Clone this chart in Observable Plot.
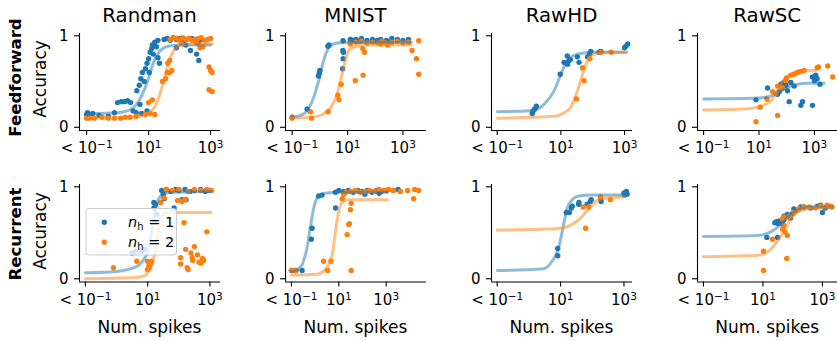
<!DOCTYPE html>
<html><head><meta charset="utf-8">
<script src="https://cdn.jsdelivr.net/npm/d3@7"></script>
<script src="https://cdn.jsdelivr.net/npm/@observablehq/plot@0.6"></script>
<style>
html,body{margin:0;padding:0;background:#fff;overflow:hidden}
#fig{position:relative;width:837px;height:341px;overflow:hidden;background:#fff;font-family:"DejaVu Sans",sans-serif}
#fig svg.panel{position:absolute}
#overlay{position:absolute;left:0;top:0;pointer-events:none}
</style></head><body><div id="fig"></div>
<script>
// ---------- labels ----------
const datasets = ["Randman", "MNIST", "RawHD", "RawSC"];
const architectures = ["Feedforward", "Recurrent"];
const xTickValues = [0.1, 10, 1000];
const xTickBase = ["< 10", "10", "10"];
const xTickExp = ["−1", "1", "3"];
const yTickValues = [0, 1];
const yTickLabels = ["0", "1"];
const nhValues = ["1", "2"];
const xLabel = "Num. spikes";
const yLabel = "Accuracy";

// ---------- data: [log10(num. spikes), accuracy]; log10 = -1 means "< 10^-1" ----------
// Feedforward
const randmanFF_nh1 = [[-1,0.14],[-0.97,0.16],[-0.93,0.13],[-0.8,0.15],[-0.6,0.13],[-0.3,0.12],[-0.1,0.16],
 [0.0,0.27],[0.12,0.28],[0.22,0.28],[0.32,0.29],[0.42,0.27],[0.5,0.18],[0.6,0.16],[0.72,0.25],[0.78,0.15],[0.95,0.18],
 [0.62,0.4],[0.7,0.46],[0.75,0.53],[0.8,0.6],[0.86,0.5],[0.9,0.64],[0.95,0.7],[1.0,0.75],[1.02,0.6],[1.05,0.82],[1.1,0.86],
 [1.15,0.8],[1.12,0.9],[1.2,0.93],[1.25,0.88],[1.3,0.76],[1.35,0.7],[1.3,0.95],
 [1.5,0.96],[1.6,0.97],[1.7,0.95],[1.8,0.98],[1.9,0.96],[2.0,0.97],[2.1,0.93],[2.2,0.96],[2.4,0.97],[2.5,0.95],[2.6,0.92],[2.7,0.96],
 [1.9,0.87],[2.35,0.84],[2.2,0.9],[2.55,0.8],[2.62,0.73]];
const randmanFF_nh2 = [[-1,0.1],[-0.9,0.1],[-0.75,0.1],[-0.5,0.11],[-0.3,0.1],[-0.1,0.1],[0.1,0.1],[0.25,0.11],[0.4,0.11],[0.6,0.12],
 [0.9,0.14],[1.05,0.15],[1.2,0.14],[1.0,0.27],[1.12,0.3],
 [1.45,0.5],[1.55,0.53],[1.6,0.6],[1.68,0.6],[1.75,0.62],[1.62,0.7],[1.68,0.73],
 [1.7,0.96],[1.8,0.98],[1.9,0.97],[2.0,0.95],[2.05,0.92],[2.1,0.98],[2.2,0.96],[2.3,0.97],[2.4,0.95],[2.5,0.96],[2.55,0.92],
 [2.6,0.97],[2.7,0.98],[2.75,0.88],[2.8,0.95],[2.9,0.96],[3.0,0.97],[2.66,0.87],
 [2.95,0.66],[3.0,0.62],[3.05,0.6],[2.95,0.41],[3.05,0.39]];
const randmanFF_fit1 = [[-1,0.15],[0,0.16],[0.4,0.19],[0.65,0.27],[0.85,0.4],[1.01,0.55],[1.17,0.72],[1.39,0.84],[1.71,0.89],[2.2,0.9],[3.0,0.9]];
const randmanFF_fit2 = [[-1,0.1],[0.5,0.11],[0.96,0.15],[1.15,0.2],[1.28,0.28],[1.49,0.51],[1.65,0.71],[1.82,0.84],[2.05,0.9],[2.5,0.91],[3.05,0.91]];

const mnistFF_nh1 = [[-1,0.11],[-0.46,0.2],[-0.05,0.56],[-0.02,0.59],[0.0,0.62],[0.29,0.885],[0.33,0.9],
 [0.83,0.84],[0.85,0.82],[0.84,0.75],[0.82,0.64],[0.84,0.945],
 [1.1,0.96],[1.2,0.95],[1.3,0.96],[1.4,0.94],[1.5,0.97],[1.7,0.95],[1.9,0.96],[2.0,0.94],[2.1,0.95],[2.2,0.96],[2.4,0.95],
 [2.5,0.93],[2.6,0.97],[2.8,0.96],[3.0,0.95],[3.2,0.96]];
const mnistFF_nh2 = [[-1,0.1],[-0.34,0.17],[-0.3,0.1],[0.3,0.17],[0.65,0.35],[0.69,0.3],[0.77,0.47],[1.28,0.51],[1.56,0.57],
 [1.61,0.82],[1.55,0.86],[1.1,0.91],
 [1.3,0.93],[1.5,0.94],[1.7,0.92],[1.9,0.93],[2.1,0.92],[2.2,0.91],[2.25,0.94],[2.3,0.93],[2.4,0.92],[2.45,0.9],[2.6,0.93],
 [2.8,0.94],[3.0,0.92],[3.2,0.93],[3.33,0.84],[3.49,0.75],[3.57,0.945],[3.57,0.58]];
const mnistFF_fit1 = [[-1,0.11],[-0.7,0.13],[-0.46,0.18],[-0.22,0.33],[-0.04,0.51],[0.14,0.73],[0.32,0.87],[0.62,0.92],[1.2,0.93],[3.3,0.93]];
const mnistFF_fit2 = [[-1,0.1],[-0.3,0.11],[0.1,0.14],[0.38,0.21],[0.62,0.36],[0.8,0.58],[0.98,0.8],[1.17,0.87],[1.6,0.9],[3.3,0.9]];

const rawhdFF_nh1 = [[0.1,0.15],[0.13,0.18],[0.18,0.2],[0.23,0.23],[0.98,0.58],[1.1,0.71],[1.21,0.69],[1.26,0.73],[1.3,0.74],
 [1.2,0.78],[1.52,0.77],[1.57,0.71],[1.84,0.77],[1.9,0.8],[1.94,0.83],[2.26,0.83],[2.2,0.82],[3.05,0.89],[3.1,0.91],[3.0,0.87]];
const rawhdFF_nh2 = [[1.49,0.31],[1.73,0.51],[1.68,0.65],[1.91,0.75],[2.26,0.82],[2.58,0.82]];
const rawhdFF_fit1 = [[-1,0.17],[0.05,0.18],[0.47,0.25],[0.79,0.4],[1.0,0.58],[1.2,0.73],[1.52,0.8],[2.0,0.82],[3.05,0.82]];
const rawhdFF_fit2 = [[-1,0.1],[0.8,0.12],[1.1,0.16],[1.31,0.22],[1.52,0.4],[1.68,0.58],[1.84,0.73],[2.05,0.8],[2.5,0.82],[3.05,0.82]];

const rawscFF_nh1 = [[0.89,0.3],[1.31,0.43],[1.67,0.36],[1.73,0.39],[1.79,0.47],[1.85,0.43],[1.9,0.49],[1.97,0.46],[2.03,0.4],
 [2.09,0.28],[2.15,0.49],[2.27,0.45],[2.51,0.24],[2.57,0.28],[2.93,0.24],[2.93,0.55],[3.0,0.51],[3.1,0.53],[3.2,0.47],[3.05,0.57]];
const rawscFF_nh2 = [[0.89,0.06],[1.04,0.22],[1.28,0.31],[1.49,0.39],[1.6,0.37],[1.67,0.45],[1.67,0.13],[1.85,0.43],[1.97,0.51],
 [2.0,0.54],[2.15,0.57],[2.27,0.58],[2.39,0.6],[2.51,0.61],[2.63,0.62],[3.1,0.65],[3.15,0.66],[3.48,0.67],[3.66,0.55]];
const rawscFF_fit1 = [[-1,0.31],[1.0,0.32],[1.4,0.34],[1.67,0.37],[2.03,0.44],[2.39,0.47],[2.8,0.48],[3.35,0.48]];
const rawscFF_fit2 = [[-1,0.19],[0.5,0.2],[0.95,0.22],[1.43,0.29],[1.67,0.4],[1.91,0.53],[2.15,0.58],[2.51,0.62],[3.05,0.62]];

// Recurrent
const randmanRec_nh1 = [[0.5,0.28],[0.6,0.3],[0.79,0.3],[0.9,0.32],[1.2,0.77],[1.2,0.83],[1.25,0.81],[1.3,0.7],
 [1.45,0.96],[1.5,0.92],[1.53,0.87],[1.6,0.97],[1.75,0.95],[1.85,0.77],[1.9,0.97],[2.0,0.96],[2.2,0.97],[2.23,0.86],[2.1,0.86],
 [2.35,0.95],[2.5,0.96],[2.7,0.97],[2.85,0.95],[3.0,0.96]];
const randmanRec_nh2 = [[-0.1,0.12],[0.65,0.19],[0.99,0.19],[1.04,0.14],[0.99,0.1],[1.1,0.17],[1.12,0.19],[1.05,0.12],[1.42,0.83],[1.53,0.88],
 [1.6,0.97],[1.8,0.96],[2.0,0.97],[2.3,0.95],[2.5,0.97],[2.7,0.96],[2.9,0.97],[3.05,0.96],[1.96,0.85],[2.1,0.84],[2.2,0.86],
 [2.17,0.61],[2.06,0.23],[2.22,0.32],[2.06,0.16],[2.27,0.12],[2.3,0.1],[2.39,0.28],[2.43,0.23],[2.5,0.35],[2.6,0.26],
 [2.71,0.17],[2.76,0.22],[2.8,0.2],[2.9,0.51],[2.45,0.2],[2.65,0.18]];
const randmanRec_fit1 = [[-1,0.065],[0,0.08],[0.56,0.12],[0.83,0.19],[1.04,0.34],[1.15,0.56],[1.26,0.77],[1.42,0.9],[1.7,0.94],[3.03,0.95]];
const randmanRec_fit2 = [[-1,0.0],[0.5,0.01],[0.88,0.03],[1.1,0.12],[1.26,0.34],[1.36,0.56],[1.47,0.69],[1.65,0.72],[3.03,0.72]];

const mnistRec_nh1 = [[-1,0.09],[-0.83,0.09],[-0.55,0.09],[-0.16,0.43],[-0.13,0.55],[0.15,0.9],[0.29,0.91],[0.86,0.77],[0.86,0.94],
 [1.0,0.96],[1.2,0.95],[1.4,0.96],[1.6,0.94],[1.8,0.96],[2.0,0.95],[2.1,0.92],[2.2,0.96],[2.4,0.94],[2.6,0.96],[2.7,0.93],
 [2.8,0.95],[3.0,0.96],[3.3,0.96],[3.5,0.97],[3.6,0.95]];
const mnistRec_nh2 = [[-1,0.09],[-0.8,0.09],[0.36,0.19],[0.53,0.09],[0.67,0.19],[1.14,0.87],[1.21,0.92],[1.35,0.48],[1.42,0.59],
 [1.45,0.6],[1.49,0.75],[1.52,0.82],[1.52,0.09],
 [1.3,0.94],[1.5,0.95],[1.7,0.96],[1.9,0.94],[2.1,0.95],[2.3,0.96],[2.5,0.95],[2.7,0.97],[2.9,0.96],[3.1,0.97],[3.3,0.96],
 [3.6,0.95],[3.9,0.96],[4.16,0.87],[4.2,0.97],[4.37,0.96]];
const mnistRec_fit1 = [[-1,0.08],[-0.75,0.1],[-0.55,0.155],[-0.34,0.34],[-0.2,0.56],[-0.06,0.77],[0.15,0.9],[0.43,0.93],[1.0,0.94],[3.05,0.94]];
const mnistRec_fit2 = [[-1,0.04],[0.08,0.05],[0.43,0.1],[0.72,0.26],[0.86,0.52],[1.0,0.74],[1.14,0.83],[1.4,0.86],[3.05,0.86]];

const rawhdRec_nh1 = [[0.91,0.33],[0.91,0.25],[1.18,0.72],[1.28,0.72],[1.34,0.77],[1.37,0.79],[1.57,0.81],[1.58,0.83],[1.84,0.81],
 [1.94,0.84],[1.97,0.86],[2.26,0.87],[2.28,0.84],[3.0,0.93],[3.05,0.94],[3.1,0.92],[3.08,0.95],[3.02,0.91]];
const rawhdRec_nh2 = [[1.71,0.78],[1.89,0.78],[1.79,0.55],[2.26,0.89],[2.57,0.86]];
const rawhdRec_fit1 = [[-1,0.09],[0.47,0.11],[0.73,0.19],[0.94,0.34],[1.08,0.56],[1.21,0.77],[1.37,0.86],[1.57,0.9],[2.0,0.91],[3.0,0.91]];
const rawhdRec_fit2 = [[-1,0.53],[0.58,0.54],[1.0,0.55],[1.31,0.58],[1.63,0.66],[1.89,0.76],[2.15,0.85],[2.47,0.88],[3.0,0.89]];

const rawscRec_nh1 = [[1.13,0.45],[1.49,0.45],[1.4,0.61],[1.45,0.62],[1.5,0.6],[1.55,0.63],[1.6,0.61],[1.65,0.6],[1.7,0.64],
 [1.71,0.68],[1.82,0.7],[1.93,0.66],[2.0,0.71],[2.04,0.76],[2.1,0.74],[2.27,0.78],[2.38,0.78],[2.6,0.77],[2.83,0.79],
 [2.94,0.8],[3.0,0.72],[3.1,0.77],[3.15,0.79]];
const rawscRec_nh2 = [[1.02,0.3],[1.02,0.09],[1.32,0.43],[1.66,0.54],[1.7,0.58],[1.74,0.51],[1.82,0.47],[1.8,0.22],[1.71,0.67],
 [1.65,0.65],[1.88,0.68],[2.04,0.72],[2.2,0.76],[2.38,0.78],[2.55,0.78],[2.77,0.77],[2.94,0.79],[3.16,0.8],[3.27,0.79],[3.32,0.78]];
const rawscRec_fit1 = [[-1,0.46],[0.82,0.47],[1.26,0.51],[1.6,0.59],[1.93,0.7],[2.27,0.76],[2.7,0.78],[3.34,0.78]];
const rawscRec_fit2 = [[-1,0.24],[0.5,0.25],[0.93,0.26],[1.26,0.32],[1.54,0.43],[1.77,0.55],[1.99,0.68],[2.27,0.74],[2.7,0.77],[3.34,0.77]];

// ---------- layout & style ----------
const BLUE = "#1f77b4", ORANGE = "#ff7f0e";
const COL_LEFT = [79, 285, 491, 696.7];
const ROW_TOP = [33, 183.5];
const ROW_H = [97, 97.5];
const AX_W = 141;
const X_DOMAIN_LOG = [
  [[-1.23, 3.32], [-1.24, 3.85], [-1.18, 3.25], [-1.22, 3.87]],
  [[-1.19, 3.34], [-1.25, 4.70], [-1.18, 3.27], [-1.20, 3.54]]
];
const Y_DOMAIN = [-0.035, 1.025];
const ML = 60, MR = 10, MT = 10, MB = 30;

const panelData = [
  [[randmanFF_nh1, randmanFF_nh2, randmanFF_fit1, randmanFF_fit2],
   [mnistFF_nh1, mnistFF_nh2, mnistFF_fit1, mnistFF_fit2],
   [rawhdFF_nh1, rawhdFF_nh2, rawhdFF_fit1, rawhdFF_fit2],
   [rawscFF_nh1, rawscFF_nh2, rawscFF_fit1, rawscFF_fit2]],
  [[randmanRec_nh1, randmanRec_nh2, randmanRec_fit1, randmanRec_fit2],
   [mnistRec_nh1, mnistRec_nh2, mnistRec_fit1, mnistRec_fit2],
   [rawhdRec_nh1, rawhdRec_nh2, rawhdRec_fit1, rawhdRec_fit2],
   [rawscRec_nh1, rawscRec_nh2, rawscRec_fit1, rawscRec_fit2]]
];

const fig = document.getElementById("fig");
const X = d => 10 ** d[0];
const Y = d => d[1];
const xTickLabels = xTickBase.map((b, i) => b + xTickExp[i]);
const fmtX = v => xTickLabels[xTickValues.findIndex(t => Math.abs(t - v) < 1e-9)];
const fmtY = v => yTickLabels[yTickValues.indexOf(v)];

for (let r = 0; r < 2; r++) {
  for (let c = 0; c < 4; c++) {
    const [p1, p2, f1, f2] = panelData[r][c];
    const dom = X_DOMAIN_LOG[r][c];
    const svg = Plot.plot({
      width: AX_W + ML + MR,
      height: ROW_H[r] + MT + MB,
      marginLeft: ML, marginRight: MR, marginTop: MT, marginBottom: MB,
      x: {type: "log", domain: [10 ** dom[0], 10 ** dom[1]]},
      y: {domain: Y_DOMAIN},
      style: {background: "none", overflow: "visible", fontFamily: "DejaVu Sans", fontSize: "15px", color: "#000"},
      marks: [
        Plot.axisX({ticks: xTickValues, tickFormat: fmtX, tickSize: 5, tickPadding: 7, label: null, strokeWidth: 1.1}),
        Plot.axisY({ticks: yTickValues, tickFormat: fmtY, tickSize: 5, tickPadding: 6, label: null, strokeWidth: 1.1}),
        Plot.ruleX([10 ** dom[0]], {stroke: "#000", strokeWidth: 1.1}),
        Plot.ruleY([Y_DOMAIN[0]], {stroke: "#000", strokeWidth: 1.1}),
        Plot.dot(p1, {x: X, y: Y, r: 2.7, fill: BLUE, stroke: null}),
        Plot.dot(p2, {x: X, y: Y, r: 2.7, fill: ORANGE, stroke: null}),
        Plot.line(f1, {x: X, y: Y, stroke: BLUE, strokeWidth: 3, strokeOpacity: 0.5, curve: "monotone-x"}),
        Plot.line(f2, {x: X, y: Y, stroke: ORANGE, strokeWidth: 3, strokeOpacity: 0.5, curve: "monotone-x"})
      ]
    });
    // render the exponents of the x tick labels as real superscripts
    d3.select(svg).selectAll('g[aria-label="x-axis tick label"] text').each(function () {
      const i = xTickLabels.indexOf(this.textContent.trim());
      if (i < 0) return;
      const t = d3.select(this);
      t.selectAll("*").remove();
      t.text(null);
      t.append("tspan").text(xTickBase[i]);
      t.append("tspan").attr("font-size", "10.5px").attr("dy", "-5").text(xTickExp[i]);
    });
    svg.classList.add("panel");
    svg.style.left = (COL_LEFT[c] - ML) + "px";
    svg.style.top = (ROW_TOP[r] - MT) + "px";
    fig.appendChild(svg);
  }
}

// ---------- text overlay & legend ----------
const ov = d3.select(fig).append("svg").attr("id", "overlay")
  .attr("width", 837).attr("height", 341)
  .attr("font-family", "DejaVu Sans").attr("fill", "#000");

datasets.forEach((name, c) => {
  ov.append("text").attr("x", COL_LEFT[c] + AX_W / 2).attr("y", 22.3)
    .attr("text-anchor", "middle").attr("font-size", 19.8).text(name);
  ov.append("text").attr("x", COL_LEFT[c] + AX_W / 2).attr("y", 333)
    .attr("text-anchor", "middle").attr("font-size", 17).text(xLabel);
});
const rowCenters = [77.5, 234];
const yLabelCenters = [79, 231];
architectures.forEach((name, r) => {
  ov.append("text").attr("transform", `translate(20.5,${rowCenters[r]}) rotate(-90)`)
    .attr("text-anchor", "middle").attr("font-size", 16.6).attr("font-weight", "bold").text(name);
  ov.append("text").attr("transform", `translate(46,${yLabelCenters[r]}) rotate(-90)`)
    .attr("text-anchor", "middle").attr("font-size", 17).text(yLabel);
});

// legend inside Randman / Recurrent panel
const lg = ov.append("g");
lg.append("rect").attr("x", 86).attr("y", 208.5).attr("width", 90.5).attr("height", 46.5)
  .attr("rx", 3).attr("fill", "#fff").attr("fill-opacity", 0.8).attr("stroke", "#cccccc").attr("stroke-width", 1);
[BLUE, ORANGE].forEach((col, i) => {
  const yy = 222.3 + i * 20;
  lg.append("circle").attr("cx", 104.3).attr("cy", yy).attr("r", 2.7).attr("fill", col);
  const t = lg.append("text").attr("x", 128).attr("y", yy + 4.5).attr("font-size", 14.5);
  t.append("tspan").attr("font-style", "italic").text("n");
  t.append("tspan").attr("font-size", 10).attr("dy", 3).text("h");
  t.append("tspan").attr("dy", -3).text(" = " + nhValues[i]);
});
</script></body></html>
